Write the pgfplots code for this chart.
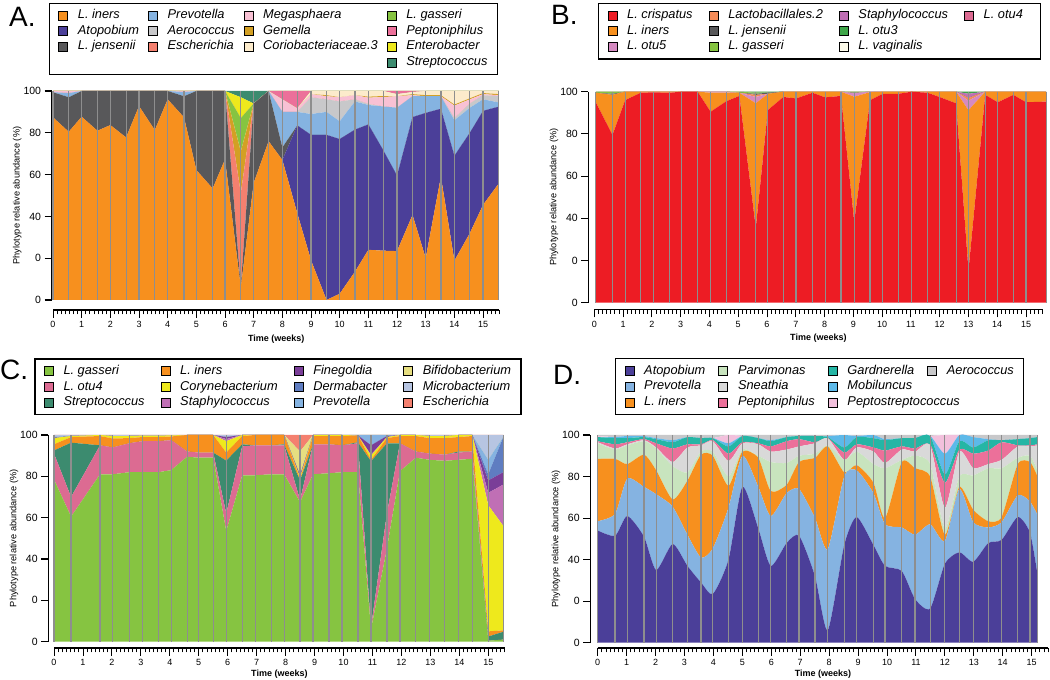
\documentclass[border=0pt]{standalone}
\usepackage{fontspec}
\setmainfont{Liberation Sans}
\usepackage{pgfplots}
\usepackage{pgfplotstable}
\pgfplotsset{compat=1.18}

% phylotype colours
\definecolor{cIne}{HTML}{F7901E}
\definecolor{cAto}{HTML}{4B3F99}
\definecolor{cJen}{HTML}{58585A}
\definecolor{cPre}{HTML}{85B3E1}
\definecolor{cAer}{HTML}{C8C8CA}
\definecolor{cEsc}{HTML}{F4806F}
\definecolor{cMeg}{HTML}{F8C1D4}
\definecolor{cGem}{HTML}{D3A024}
\definecolor{cCor}{HTML}{FCEBCB}
\definecolor{cGas}{HTML}{86C441}
\definecolor{cPep}{HTML}{EC709A}
\definecolor{cEnt}{HTML}{EEE91C}
\definecolor{cStr}{HTML}{3C8B6F}
\definecolor{cCri}{HTML}{ED1C24}
\definecolor{cOtf}{HTML}{D58AC1}
\definecolor{cLat}{HTML}{F58B57}
\definecolor{cSta}{HTML}{C06FB5}
\definecolor{cOtt}{HTML}{3EA649}
\definecolor{cVag}{HTML}{FDFBEA}
\definecolor{cOtq}{HTML}{DC6B92}
\definecolor{cFin}{HTML}{7A3E98}
\definecolor{cDer}{HTML}{5F7DC1}
\definecolor{cBif}{HTML}{E6DE80}
\definecolor{cMic}{HTML}{B7C5E2}
\definecolor{cPar}{HTML}{C8E4BE}
\definecolor{cSne}{HTML}{D9D9D9}
\definecolor{cGar}{HTML}{25B6A5}
\definecolor{cMob}{HTML}{5DB9E9}
\definecolor{cPst}{HTML}{F2C0DC}
\definecolor{cGrid}{HTML}{8E8E8E}

% relative abundance (%) per sample, one column per phylotype
\pgfplotstableread{
t     ine  ato  jen  pre  aer  esc  meg  gem  cor  gas  pep  ent  str
0     87.4 0    12   0    0    0    0.6  0    0    0    0    0    0
0.55  80.5 0    16.5 2    0    0    1    0    0    0    0    0    0
1     87.7 0    12.3 0    0    0    0    0    0    0    0    0    0
1.55  81   0    19   0    0    0    0    0    0    0    0    0    0
2     83.7 0    16.3 0    0    0    0    0    0    0    0    0    0
2.55  77.8 0    22.2 0    0    0    0    0    0    0    0    0    0
3     92.8 0    7.2  0    0    0    0    0    0    0    0    0    0
3.55  81.3 0    18.7 0    0    0    0    0    0    0    0    0    0
4     96   0    4    0    0    0    0    0    0    0    0    0    0
4.57  87.4 0    10.1 2    0    0    0.5  0    0    0    0    0    0
5     62.2 0    37.8 0    0    0    0    0    0    0    0    0    0
5.57  53.4 0    46.6 0    0    0    0    0    0    0    0    0    0
6     67.3 0    32.7 0    0    0    0    0    0    0    0    0    0
6.55  6    0    0    0    0    45   0    20   0    16   0    10   3
7     56   0    38   0    0    0    0    0    0    0    0    0    6
7.52  76   0    24   0    0    0    0    0    0    0    0    0    0
8     67   0    6    17   0    0    6    0    0    0    4    0    0
8.52  41.5 42   0    6.5  0    0    1.7  0    0    0    8.3  0    0
9     19   60   0    10   8    0    1.5  0    1.5  0    0    0    0
9.54  0    79   0    11   6    0    1.5  0.5  2    0    0    0    0
10    3    74   0    8.5  9.5  0    2    0    3    0    0    0    0
10.53 13.5 68   0    13.5 1    0    2    0    2    0    0    0    0
11    24   60   0    9.3  0.5  0    3    0.5  2.7  0    0    0    0
11.52 23.6 48   0    21   0    0    4.5  0.5  2.4  0    0    0    0
12    23.4 36.1 0    32.5 0    0    5.5  0    1    0    1.5  0    0
12.54 40.7 46.8 0    10   0    0    0.5  0.5  1    0    0.5  0    0
13    20   69.5 0    8    0    0    0    0.5  2    0    0    0    0
13.53 59   32.5 0    6    0    0    0    0.5  2    0    0    0    0
14    18.8 50.2 0    17   1    0    6    0.5  6.5  0    0    0    0
14.54 32   48   0    12   2    0    2    0.5  3.5  0    0    0    0
15    45.5 45   0    5.5  2    0    0.5  0.5  1    0    0    0    0
15.55 55.8 36.7 0    2    3    0    0.5  0.5  1.5  0    0    0    0
}\dA

\pgfplotstableread{
t     cri  ine  otf  lat  jen  gas  sta  ott  vag  otq
0.05  95   4.5  0    0    0    0.5  0    0    0    0
0.63  79.5 19   0    0    0.5  1    0    0    0    0
1.07  96   4    0    0    0    0    0    0    0    0
1.61  99.5 0.5  0    0    0    0    0    0    0    0
2.05  99.7 0.3  0    0    0    0    0    0    0    0
2.61  99.5 0.5  0    0    0    0    0    0    0    0
3.03  100  0    0    0    0    0    0    0    0    0
3.59  100  0    0    0    0    0    0    0    0    0
4.04  90.5 9    0.5  0    0    0    0    0    0    0
4.59  95.5 4    0.5  0    0    0    0    0    0    0
5.04  98   1.5  0    0    0    0.5  0    0    0    0
5.61  35.5 59   3    1    0.5  0.5  0    0.5  0    0
6.03  91.3 7.7  0    0    0.5  0    0    0.5  0    0
6.57  97.5 2.5  0    0    0    0    0    0    0    0
7.01  96.8 3.2  0    0    0    0    0    0    0    0
7.58  99.5 0.5  0    0    0    0    0    0    0    0
8.02  97.3 2.7  0    0    0    0    0    0    0    0
8.57  98   2    0    0    0    0    0    0    0    0
9.03  38.4 59.2 1.7  0    0.2  0.5  0    0    0    0
9.58  96   3.8  0.2  0    0    0    0    0    0    0
10.02 99   1    0    0    0    0    0    0    0    0
10.56 99   1    0    0    0    0    0    0    0    0
11.03 100  0    0    0    0    0    0    0    0    0
11.58 99.5 0.5  0    0    0    0    0    0    0    0
11.99 97.5 2.5  0    0    0    0    0    0    0    0
12.57 94.5 5.5  0    0    0    0    0    0    0    0
13.0  15.2 76   4.5  1.3  0    0    2    1    0    0
13.58 98.5 1.5  0    0    0    0    0    0    0    0
14.02 95   5    0    0    0    0    0    0    0    0
14.56 98.5 1.5  0    0    0    0    0    0    0    0
15.0  95   5    0    0    0    0    0    0    0    0
15.7  95.3 4.7  0    0    0    0    0    0    0    0
}\dB

\pgfplotstableread{
t     gas  otq  str  ine  cor  sta  fin  der  pre  bif  mic  esc
0     78.5 12.5 1.5  3    3    0    0    0.5  0    0    1    0
0.59  60.5 9.5  26.3 2.7  0.5  0    0    0    0    0    0.5  0
1.59  81   14   0    4.5  0.5  0    0    0    0    0    0    0
2.03  81   13   0    4.3  1.2  0    0    0    0    0    0.5  0
2.6   82   14   0    2.5  1    0    0    0    0    0    0.5  0
3.05  82   15   0    2    0.7  0    0    0    0    0    0.3  0
3.6   82   15   0    2    0.7  0    0    0    0    0    0.3  0
4.05  83   14.5 0    1.8  0.5  0    0    0    0    0    0.2  0
4.6   89.5 2.5  0    8    0    0    0    0    0    0    0    0
5.0   89   2.5  0    8.5  0    0    0    0    0    0    0    0
5.5   89   2.5  0    8.5  0    0    0    0    0    0    0    0
5.95  53.5 8.5  25.6 3.9  5.5  1    1    0    0    0    1    0
6.5   80.5 14   1    4    0.5  0    0    0    0    0    0    0
6.95  80.5 14.5 0    5    0    0    0    0    0    0    0    0
7.5   81   14   0    5    0    0    0    0    0    0    0    0
7.95  81   14   0.5  4.5  0    0    0    0    0    0    0    0
8.5   67.5 1    9.5  0.5  1    0    1    0    0    11.5 0    8
8.95  81   14.5 0    4    0.5  0    0    0    0    0    0    0
9.5   81.5 14   0    4    0.5  0    0    0    0    0    0    0
9.95  82   13   0    4.5  0.5  0    0    0    0    0    0    0
10.5  82   14   0.5  3.3  0    0    0    0    0.2  0    0    0
10.95 6    1    80.3 0.7  2    0.5  4.5  0    5    0    0    0
11.5  45   17   34   2.5  0.5  0    0.5  0    0.5  0    0    0
11.95 82.5 13.5 0    3.5  0.5  0    0    0    0    0    0    0
12.5  89   3    0    7.5  0.5  0    0    0    0    0    0    0
12.97 88   3    0    7.5  1    0    0    0    0    0    0.5  0
13.5  87.5 3    0    8    1    0    0    0    0    0    0.5  0
13.97 88   3.5  0.5  7    1    0    0    0    0    0    0    0
14.45 88.5 3.5  0    7.5  0.5  0    0    0    0    0    0    0
15.0  0.5  0    2    2.5  61   6    6    3    7    0    12   0
15.52 1    0    3.8  0.7  50.5 20   6    17   0    0    1    0
}\dC

\pgfplotstableread{
t     ato  pre  ine  par  sne  pep  gar  mob  pst  aer
0     54   4.5  30   7.5  0.5  0.5  2    0    0.5  0.5
0.6   51.5 10.5 26.5 4.5  0.5  2    3    0.5  0    1
1.02  61   18   7    9    0.5  1    2    1    0    0.5
1.6   51   24   15.5 6.5  0.5  0.5  1    0.5  0    0.5
2.02  35   36.5 11.5 10.5 0.5  2    2    0.5  0    1.5
2.59  47.5 18   3.5  16   2    6.5  3    1    0    2.5
3.1   37   15   26   4    12   1.5  3.5  0    0    1
3.57  29   12   49.5 1.5  3    0.5  3    0    0    1.5
3.98  23.5 22   44.5 2    5    0.5  1    0    0    1.5
4.52  40   25   10.5 4.5  7.5  3.5  3.5  1.5  4    0
5.0   75   15   2    1    3    0.5  3    0    0    0.5
5.55  55   20   14   1    5.5  0.5  2.5  0    0    1.5
5.98  37   24   12   14   5    2.5  2.5  0.5  0    2.5
6.53  48   24   4    10.5 6.5  4    2    0    0    1
6.96  51.5 22.5 13   3    4.5  3.5  1.5  0    0    0.5
7.51  32   28   29   2    5    0.5  3    0    0    0.5
7.95  6    39   49.5 0.5  3.5  0    0.5  0.5  0    0.5
8.52  47   33   2    6    0    3.5  2.5  6    0    0
8.95  60.5 22.5 2.5  6.5  2    1.5  3.5  0.5  0    0.5
9.53  47   25   5    9    6    2    4.5  1.5  0    0
9.93  37   20   3    24   2.5  6    5    0.5  0    2
10.51 34.5 21   31.5 1    5    1.5  4    0    0    1.5
10.97 21   31   32   6    2    1.5  5    0    0    1.5
11.49 16.5 40.5 23   6    9    0.5  4    0    0    0.5
12.0  38   11   3    3    10   12   4    10   9    0
12.5  43.5 30.5 1    5    12   1    4    3    0    0
12.98 39   19   6    16.5 3.5  7    3    5    0    1
13.5  48   7.5  3    25.5 2    6.5  5    0.5  0    2
13.96 49.5 8.5  2.5  23.5 4    8.5  1    0    0    2.5
14.52 60.5 10.5 15   3    5.5  0.5  3    0    0    2
14.94 53   15   19   3    4.5  0.5  3.5  0    0    1.5
15.2  33   28.5 18.5 3    12   0.5  3.5  0    0    1
}\dD

\pgfplotsset{
  /pgf/number format/assume math mode=true,
  panel/.style={
    anchor=south west, axis on top, stack plots=y,
    ymin=0, ymax=100,
    axis y line*=left, axis x line*=bottom,
    x axis line style={draw=none}, xtick style={draw=none}, xticklabels={},
    xmajorgrids, major grid style={draw=cGrid, line width=1.2pt},
    ytick={0,20,40,60,80,100}, yticklabels={0,0,40,60,80,100},
    y axis line style={line width=1.1pt},
    ytick style={draw=black, line width=1.1pt},
    tick align=outside, major tick length=7pt,
    yticklabel style={font=\fontsize{10.5}{11}\selectfont},
    ylabel={Phylotype relative abundance (\%)},
    ylabel style={font=\fontsize{9.2}{10}\selectfont}, ylabel shift=-5pt,
    transpose legend, legend cell align=left,
    legend image code/.code={\draw[##1,draw=black,line width=0.6pt] (0pt,-4.5pt) rectangle (9pt,4.5pt);},
    legend style={anchor=north west, draw=black, line width=1.2pt,
      inner xsep=9pt, inner ysep=5pt,
      font=\fontsize{12.8}{14}\selectfont\itshape,
      row sep=1pt, column sep=9pt,
      nodes={inner xsep=1pt, inner ysep=1.5pt, text height=9pt, text depth=2.6pt}},
  },
  gap/.style={legend style={/tikz/every even column/.append style={column sep=#1}}},
  lay/.style={fill=#1, draw=none},
  ruler/.style={
    anchor=south west, ymin=0, ymax=1, y=1pt, xmin=0, xmax=15.571,
    axis x line*=bottom, axis y line=none, tick align=outside,
    xtick={0,1,...,15}, minor xtick={0,0.142857,...,15.58},
    major tick length=8pt, minor tick length=4.5pt,
    tick style={draw=black, line width=0.9pt},
    x axis line style={line width=1.3pt},
    xticklabel style={font=\fontsize{9}{10}\selectfont},
    xlabel={Time (weeks)},
    xlabel style={font=\fontsize{9}{10}\selectfont\bfseries},
  },
}

\begin{document}
\begin{tikzpicture}
\path[use as bounding box] (0,0) rectangle (1050pt,680pt);

% ---------------- A ----------------
\begin{axis}[panel, gap=8pt, x=28.67pt, y=2.09pt, xmin=-0.05, xmax=15.55, at={(51.57pt,380pt)},
  xtick={0,0.55,1,1.55,2,2.55,3,3.55,4,4.57,5,5.57,6,6.55,7,7.52,8,8.52,9,9.54,10,10.53,11,11.52,12,12.54,13,13.53,14,14.54,15,15.55},
  legend columns=4, legend style={at={(-0.0064,1.4225)}}]
\addlegendimage{fill=cIne}\addlegendentry{L. iners}
\addlegendimage{fill=cAto}\addlegendentry{Atopobium}
\addlegendimage{fill=cJen}\addlegendentry{L. jensenii}
\addlegendimage{empty legend}\addlegendentry{}
\addlegendimage{fill=cPre}\addlegendentry{Prevotella}
\addlegendimage{fill=cAer}\addlegendentry{Aerococcus}
\addlegendimage{fill=cEsc}\addlegendentry{Escherichia}
\addlegendimage{empty legend}\addlegendentry{}
\addlegendimage{fill=cMeg}\addlegendentry{Megasphaera}
\addlegendimage{fill=cGem}\addlegendentry{Gemella}
\addlegendimage{fill=cCor}\addlegendentry{Coriobacteriaceae.3}
\addlegendimage{empty legend}\addlegendentry{}
\addlegendimage{fill=cGas}\addlegendentry{L. gasseri}
\addlegendimage{fill=cPep}\addlegendentry{Peptoniphilus}
\addlegendimage{fill=cEnt}\addlegendentry{Enterobacter}
\addlegendimage{fill=cStr}\addlegendentry{Streptococcus}
\addplot[lay=cIne] table[x=t,y=ine]{\dA}\closedcycle;
\addplot[lay=cAto] table[x=t,y=ato]{\dA}\closedcycle;
\addplot[lay=cJen] table[x=t,y=jen]{\dA}\closedcycle;
\addplot[lay=cPre] table[x=t,y=pre]{\dA}\closedcycle;
\addplot[lay=cAer] table[x=t,y=aer]{\dA}\closedcycle;
\addplot[lay=cEsc] table[x=t,y=esc]{\dA}\closedcycle;
\addplot[lay=cMeg] table[x=t,y=meg]{\dA}\closedcycle;
\addplot[lay=cGem] table[x=t,y=gem]{\dA}\closedcycle;
\addplot[lay=cCor] table[x=t,y=cor]{\dA}\closedcycle;
\addplot[lay=cGas] table[x=t,y=gas]{\dA}\closedcycle;
\addplot[lay=cPep] table[x=t,y=pep]{\dA}\closedcycle;
\addplot[lay=cEnt] table[x=t,y=ent]{\dA}\closedcycle;
\addplot[lay=cStr] table[x=t,y=str]{\dA}\closedcycle;
\end{axis}
\begin{axis}[ruler, x=28.67pt, at={(53pt,370pt)}]
\end{axis}

% ---------------- B ----------------
\begin{axis}[panel, gap=15pt, x=28.78pt, y=2.11pt, xmin=-0.21, xmax=15.7, at={(588.3pt,377.3pt)},
  xtick={0.05,0.63,1.07,1.61,2.05,2.61,3.03,3.59,4.04,4.59,5.04,5.61,6.03,6.57,7.01,7.58,8.02,8.57,9.03,9.58,10.02,10.56,11.03,11.58,11.99,12.57,13.0,13.58,14.02,14.56,15.0,15.7},
  legend columns=3, legend style={at={(0.0212,1.4218)}}]
\addlegendimage{fill=cCri}\addlegendentry{L. crispatus}
\addlegendimage{fill=cIne}\addlegendentry{L. iners}
\addlegendimage{fill=cOtf}\addlegendentry{L. otu5}
\addlegendimage{fill=cLat}\addlegendentry{Lactobacillales.2}
\addlegendimage{fill=cJen}\addlegendentry{L. jensenii}
\addlegendimage{fill=cGas}\addlegendentry{L. gasseri}
\addlegendimage{fill=cSta}\addlegendentry{Staphylococcus}
\addlegendimage{fill=cOtt}\addlegendentry{L. otu3}
\addlegendimage{fill=cVag}\addlegendentry{L. vaginalis}
\addlegendimage{fill=cOtq}\addlegendentry{L. otu4\hspace*{8pt}}
\addlegendimage{empty legend}\addlegendentry{}
\addlegendimage{empty legend}\addlegendentry{}
\addplot[lay=cCri] table[x=t,y=cri]{\dB}\closedcycle;
\addplot[lay=cIne] table[x=t,y=ine]{\dB}\closedcycle;
\addplot[lay=cOtf] table[x=t,y=otf]{\dB}\closedcycle;
\addplot[lay=cLat] table[x=t,y=lat]{\dB}\closedcycle;
\addplot[lay=cJen] table[x=t,y=jen]{\dB}\closedcycle;
\addplot[lay=cGas] table[x=t,y=gas]{\dB}\closedcycle;
\addplot[lay=cSta] table[x=t,y=sta]{\dB}\closedcycle;
\addplot[lay=cOtt] table[x=t,y=ott]{\dB}\closedcycle;
\addplot[lay=cVag] table[x=t,y=vag]{\dB}\closedcycle;
\addplot[lay=cOtq] table[x=t,y=otq]{\dB}\closedcycle;
\end{axis}
\begin{axis}[ruler, x=28.78pt, at={(594.3pt,370.5pt)}]
\end{axis}

% ---------------- C ----------------
\begin{axis}[panel, gap=15pt, x=28.95pt, y=2.067pt, xmin=-0.2, xmax=15.52, at={(48.2pt,38.3pt)},
  xtick={0,0.59,1.59,2.03,2.6,3.05,3.6,4.05,4.6,5.0,5.5,5.95,6.5,6.95,7.5,7.95,8.5,8.95,9.5,9.95,10.5,10.95,11.5,11.95,12.5,12.97,13.5,13.97,14.45,15.0,15.52},
  legend columns=3, legend style={at={(-0.0305,1.371)}}]
\addlegendimage{fill=cGas}\addlegendentry{L. gasseri}
\addlegendimage{fill=cOtq}\addlegendentry{L. otu4}
\addlegendimage{fill=cStr}\addlegendentry{Streptococcus}
\addlegendimage{fill=cIne}\addlegendentry{L. iners}
\addlegendimage{fill=cEnt}\addlegendentry{Corynebacterium}
\addlegendimage{fill=cSta}\addlegendentry{Staphylococcus}
\addlegendimage{fill=cFin}\addlegendentry{Finegoldia}
\addlegendimage{fill=cDer}\addlegendentry{Dermabacter}
\addlegendimage{fill=cPre}\addlegendentry{Prevotella}
\addlegendimage{fill=cBif}\addlegendentry{Bifidobacterium}
\addlegendimage{fill=cMic}\addlegendentry{Microbacterium}
\addlegendimage{fill=cEsc}\addlegendentry{Escherichia}
\addplot[lay=cGas] table[x=t,y=gas]{\dC}\closedcycle;
\addplot[lay=cOtq] table[x=t,y=otq]{\dC}\closedcycle;
\addplot[lay=cStr] table[x=t,y=str]{\dC}\closedcycle;
\addplot[lay=cIne] table[x=t,y=ine]{\dC}\closedcycle;
\addplot[lay=cEnt] table[x=t,y=cor]{\dC}\closedcycle;
\addplot[lay=cSta] table[x=t,y=sta]{\dC}\closedcycle;
\addplot[lay=cFin] table[x=t,y=fin]{\dC}\closedcycle;
\addplot[lay=cDer] table[x=t,y=der]{\dC}\closedcycle;
\addplot[lay=cPre] table[x=t,y=pre]{\dC}\closedcycle;
\addplot[lay=cBif] table[x=t,y=bif]{\dC}\closedcycle;
\addplot[lay=cMic] table[x=t,y=mic]{\dC}\closedcycle;
\addplot[lay=cEsc] table[x=t,y=esc]{\dC}\closedcycle;
\end{axis}
\begin{axis}[ruler, x=28.95pt, at={(54pt,32pt)}, xlabel style={yshift=3pt}]
\end{axis}

% ---------------- D ----------------
\begin{axis}[panel, gap=12pt, x=28.93pt, y=2.077pt, xmin=-0.26, xmax=15.2, at={(590.2pt,37.3pt)},
  xtick={0,0.6,1.02,1.6,2.02,2.59,3.1,3.57,3.98,4.52,5.0,5.55,5.98,6.53,6.96,7.51,7.95,8.52,8.95,9.53,9.93,10.51,10.97,11.49,12.0,12.5,12.98,13.5,13.96,14.52,14.94,15.2},
  legend columns=3, legend style={at={(0.0555,1.3693)}}]
\addlegendimage{fill=cAto}\addlegendentry{Atopobium}
\addlegendimage{fill=cPre}\addlegendentry{Prevotella}
\addlegendimage{fill=cIne}\addlegendentry{L. iners}
\addlegendimage{fill=cPar}\addlegendentry{Parvimonas}
\addlegendimage{fill=cSne}\addlegendentry{Sneathia}
\addlegendimage{fill=cPep}\addlegendentry{Peptoniphilus}
\addlegendimage{fill=cGar}\addlegendentry{Gardnerella}
\addlegendimage{fill=cMob}\addlegendentry{Mobiluncus}
\addlegendimage{fill=cPst}\addlegendentry{\makebox[0pt][l]{Peptostreptococcus}}
\addlegendimage{fill=cAer}\addlegendentry{Aerococcus}
\addlegendimage{empty legend}\addlegendentry{}
\addlegendimage{empty legend}\addlegendentry{}
\addplot[lay=cAto, smooth, tension=0.4] table[x=t,y=ato]{\dD}\closedcycle;
\addplot[lay=cPre, smooth, tension=0.4] table[x=t,y=pre]{\dD}\closedcycle;
\addplot[lay=cIne, smooth, tension=0.4] table[x=t,y=ine]{\dD}\closedcycle;
\addplot[lay=cPar, smooth, tension=0.4] table[x=t,y=par]{\dD}\closedcycle;
\addplot[lay=cSne, smooth, tension=0.4] table[x=t,y=sne]{\dD}\closedcycle;
\addplot[lay=cPep, smooth, tension=0.4] table[x=t,y=pep]{\dD}\closedcycle;
\addplot[lay=cGar, smooth, tension=0.4] table[x=t,y=gar]{\dD}\closedcycle;
\addplot[lay=cMob, smooth, tension=0.4] table[x=t,y=mob]{\dD}\closedcycle;
\addplot[lay=cPst, smooth, tension=0.4] table[x=t,y=pst]{\dD}\closedcycle;
\addplot[lay=cAer, smooth, tension=0.4] table[x=t,y=aer]{\dD}\closedcycle;
\end{axis}
\begin{axis}[ruler, x=28.93pt, at={(597.7pt,32pt)}, xlabel style={yshift=3pt}]
\end{axis}

% panel letters
\node[anchor=base west, inner sep=0pt, font=\fontsize{28}{30}\selectfont] at (9pt,653pt) {A.};
\node[anchor=base west, inner sep=0pt, font=\fontsize{28}{30}\selectfont] at (551pt,655pt) {B.};
\node[anchor=base west, inner sep=0pt, font=\fontsize{28}{30}\selectfont] at (0pt,300pt) {C.};
\node[anchor=base west, inner sep=0pt, font=\fontsize{28}{30}\selectfont] at (553pt,295pt) {D.};
\end{tikzpicture}
\end{document}
